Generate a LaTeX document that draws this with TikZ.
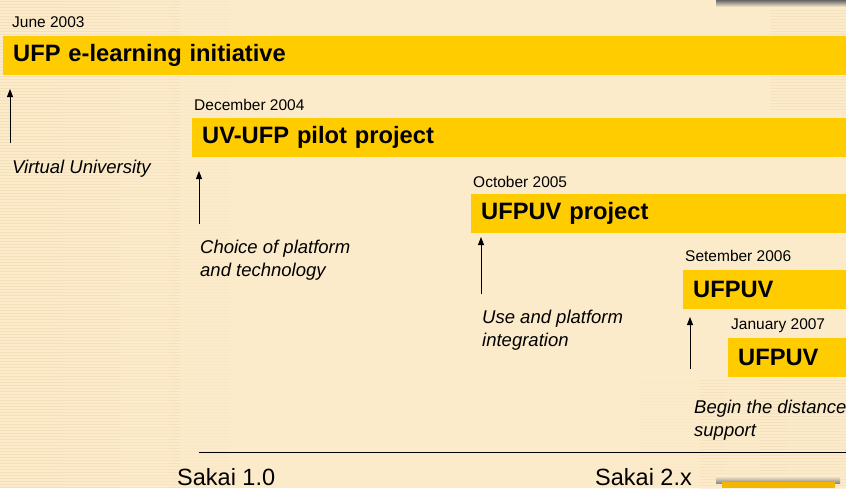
\documentclass[tikz,border=0pt]{standalone}
\usepackage{fontspec}
\setmainfont{Liberation Sans}
\usetikzlibrary{arrows.meta}

\definecolor{bgbeige}{HTML}{FCEBCB}
\definecolor{stripe}{HTML}{EFD9AE}
\definecolor{ufpyellow}{HTML}{FFCC00}
\definecolor{deepyellow}{HTML}{F2B600}

\tikzset{
  bar/.style={fill=ufpyellow, anchor=north west, minimum height=39pt, inner xsep=10pt,
    text width=#1, align=left, font=\fontsize{23.7}{28}\selectfont\bfseries},
  date/.style={anchor=base west, inner sep=0pt, font=\fontsize{15.5}{18}\selectfont},
  note/.style={anchor=base west, inner sep=0pt, align=left,
    font=\fontsize{18.5}{22.5}\selectfont\itshape},
  release/.style={anchor=base west, inner sep=0pt, font=\fontsize{23.5}{28}\selectfont},
  up/.style={-{Triangle[length=8pt,width=6pt]}, line width=0.9pt}
}

\begin{document}
\begin{tikzpicture}[x=1pt, y=-1pt]
% Background
\fill[bgbeige] (0,0) rectangle (846,488);
\useasboundingbox (0,0) rectangle (846,488);
\foreach \x/\o in {0/0.6, 60/0.5, 120/0.35, 170/0.2} {
  \foreach \y in {1,4,...,488} {
    \fill[stripe, opacity=\o] (\x,\y) rectangle (\x+60,\y+1.2);
  }
}
\foreach \y in {1,4,...,110} {
  \fill[stripe, opacity=0.45] (770,\y) rectangle (846,\y+1.2);
}
\foreach \x/\o in {640/0.15, 700/0.3, 760/0.4} {
  \foreach \y in {380,383,...,488} {
    \fill[stripe, opacity=\o] (\x,\y) rectangle (\x+86,\y+1.2);
  }
}
\shade[top color=black!60, bottom color=bgbeige] (716,0) rectangle (846,7);
\shade[top color=bgbeige, bottom color=black!45] (716,476) rectangle (840,483);
\fill[deepyellow] (722,482) rectangle (835,488);

% Dates
\node[date] (d2003) at (12,27) {June 2003};
\node[date] (d2004) at (194,110) {December 2004};
\node[date] (d2005) at (473,187) {October 2005};
\node[date] (d2006) at (685,261) {Setember 2006};
\node[date] (d2007) at (731,329) {January 2007};

% Bars
\node[bar=900pt] (initiative) at (3,36) {UFP e-learning initiative};
\node[bar=700pt] (pilot) at (192,118) {UV-UFP pilot project};
\node[bar=400pt] (project) at (471,194) {UFPUV project};
\node[bar=200pt] (ufpuv) at (683,270) {UFPUV};
\node[bar=200pt] (ufpuvdist) at (728,338) {UFPUV};

% Notes (base = last line)
\node[note] (virtual) at (12,173) {Virtual University};
\node[note] (choice) at (200,276) {Choice of platform\\and technology};
\node[note] (use) at (482,346) {Use and platform\\integration};
\node[note] (distance) at (694,436) {Begin the distance\\support};

% Arrows
\coordinate (a1s) at (10,143);  \coordinate (a1e) at (10,89);
\coordinate (a2s) at (199,224); \coordinate (a2e) at (199,171);
\coordinate (a3s) at (481,294); \coordinate (a3e) at (481,237);
\coordinate (a4s) at (690,369); \coordinate (a4e) at (690,317);
\draw[up] (a1s) -- (a1e);
\draw[up] (a2s) -- (a2e);
\draw[up] (a3s) -- (a3e);
\draw[up] (a4s) -- (a4e);

% Sakai line
\coordinate (lstart) at (199,452);
\coordinate (lend) at (846,452);
\draw[line width=0.9pt] (lstart) -- (lend);
\node[release] (sakai1) at (177,485) {Sakai 1.0};
\node[release] (sakai2) at (595,485) {Sakai 2.x};
\end{tikzpicture}
\end{document}
